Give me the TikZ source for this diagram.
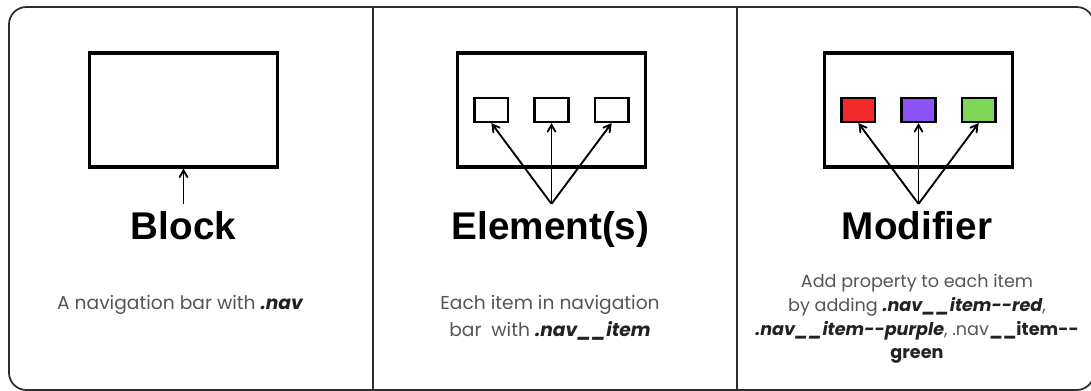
\documentclass[tikz,border=0pt]{standalone}
\usepackage{fontspec}
\setmainfont{Poppins}
\newfontfamily\headfont{Liberation Sans}
\usepackage{tikz}
\usetikzlibrary{positioning,arrows}
\definecolor{colorred}   {RGB}{242,42,42}
\definecolor{colorpurple}{RGB}{139,82,245}
\definecolor{colorgreen} {RGB}{125,214,85}
\definecolor{colortext}  {RGB}{85,85,85}
\definecolor{colorcode}  {RGB}{34,34,34}
\definecolor{colorframe} {RGB}{45,45,45}
\newcommand{\code}[1]{{\color{colorcode}\bfseries\itshape #1}}
\newcommand{\codeup}[1]{{\color{colorcode}\bfseries #1}}

\begin{document}
\begin{tikzpicture}[
    x=0.75pt, y=-0.75pt,
    node distance = 18pt,
    nav/.style={draw,line width=2.3pt,minimum width=141pt,minimum height=85.5pt,inner sep=0pt},
    item/.style={draw,line width=1.9pt,minimum width=25.2pt,minimum height=17.7pt,inner sep=0pt},
    title/.style={font={\headfont\fontsize{29}{32}\selectfont\bfseries},inner sep=0pt,anchor=base},
    caption/.style={text=colortext,font={\fontsize{14}{20}\selectfont},align=center,inner sep=0pt},
    pointer/.style={-angle 60,line width=1.4pt},
]

    \useasboundingbox[fill=white] (0,0) rectangle (1091,391);

    % Frame and dividers
    \draw[colorframe,line width=1.3pt,rounded corners=13pt] (9,7) rectangle (1094,390);
    \draw[colorframe,line width=1.3pt] (373,7) -- (373,390);
    \draw[colorframe,line width=1.3pt] (737,7) -- (737,390);

    % Block
    \node[nav] (nav1) at (183.5,110) {};
    \coordinate[below=26.5pt of nav1] (hub1);
    \node[title] (block) at (183.5,240) {Block};
    \node[caption] (blocktext) at (180,305) {A navigation bar with \code{.nav}};
    \draw[pointer] (hub1) -- (nav1);

    % Elements
    \node[nav] (nav2) at (551.5,110) {};
    \node[item] (item2b) at (nav2.center) {};
    \node[item, left=of item2b]  (item2a) {};
    \node[item, right=of item2b] (item2c) {};
    \coordinate[below=26.5pt of nav2] (hub2);
    \node[title] (element) at (550.5,240) {Element(s)};
    \node[caption] (elementtext) at (550,318)
        {Each item in navigation\\bar~~with \code{.nav\_\_item}};
    \foreach \i in {a,b,c}
        \draw[pointer] (hub2) -- (item2\i.south);

    % Modifier
    \node[nav] (nav3) at (918.5,110) {};
    \node[item,fill=colorpurple] (item3b) at (nav3.center) {};
    \node[item,fill=colorred,   left=of item3b]  (item3a) {};
    \node[item,fill=colorgreen, right=of item3b] (item3c) {};
    \coordinate[below=26.5pt of nav3] (hub3);
    \node[title] (modifier) at (917,240) {Modifier};
    \node[caption,font={\fontsize{13.2}{17.8}\selectfont}] (modifiertext) at (917,319)
        {Add property to each item\\
         by adding \code{.nav\_\_item{-}{-}red},\\
         \code{.nav\_\_item{-}{-}purple}, .nav\codeup{\_\_item{-}{-}}\\
         \codeup{green}};
    \foreach \i in {a,b,c}
        \draw[pointer] (hub3) -- (item3\i.south);

\end{tikzpicture}
\end{document}
